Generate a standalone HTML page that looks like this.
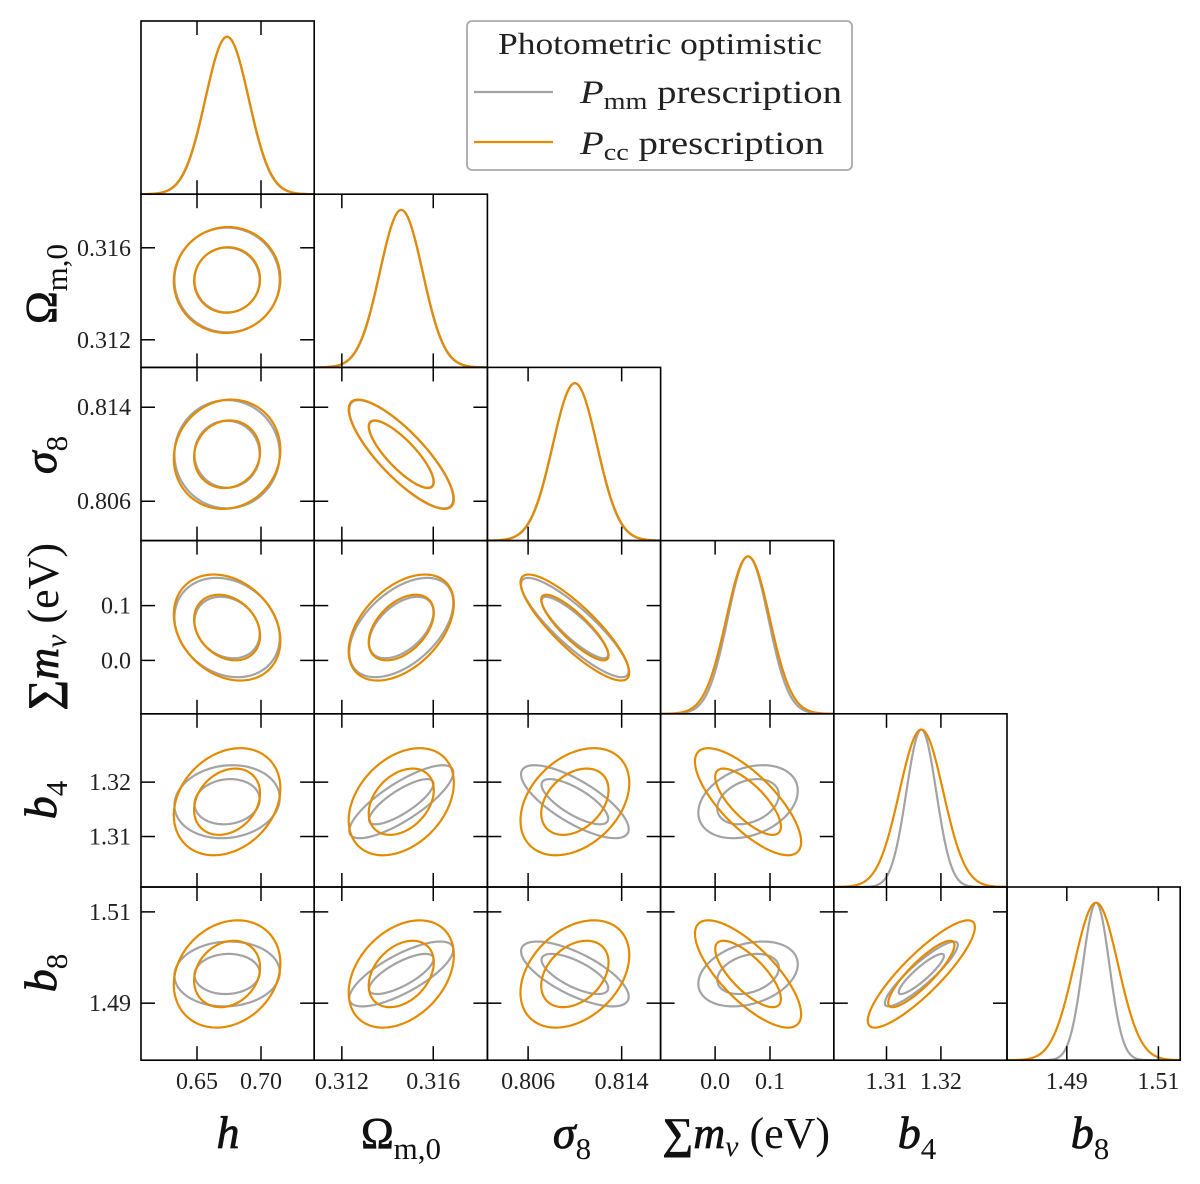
<!DOCTYPE html>
<html><head><meta charset="utf-8"><style>
html,body{margin:0;padding:0;background:#fff;}
svg{display:block;font-family:"Liberation Serif","DejaVu Serif",serif;}
</style></head><body>
<svg id="chart" width="1200" height="1184" viewBox="0 0 1200 1184" xmlns="http://www.w3.org/2000/svg"></svg>
<script>
// ---- data ----
const paramNames = ["h","Om","s8","mnu","b4","b8"];
const means = [0.6735, 0.3146, 0.8100, 0.060, 1.3164, 1.4964];
const sigmaCC = [0.0170, 0.00094, 0.0019, 0.0395, 0.00402, 0.0048];
const sigmaMM = [0.0168, 0.00093, 0.00188, 0.037, 0.00274, 0.0029];
// pair correlations
const pairI = [1,2,2,3,3,3,4,4,4,4,5,5,5,5,5];
const pairJ = [0,0,1,0,1,2,0,1,2,3,0,1,2,3,4];
const rhoCC = [0.02,0.08,-0.82,-0.25,0.45,-0.85,0.25,0.35,0.35,-0.75,0.2,0.35,0.35,-0.75,0.87];
const rhoMM = [0.0,0.0,-0.82,-0.2,0.5,-0.87,0.1,0.8,-0.75,0.3,0.05,0.75,-0.7,0.3,0.9];
const colLo = [0.60625,0.31079,0.80252,-0.0993,1.30031,1.47694];
const colHi = [0.74156,0.31837,0.81733,0.2162,1.33215,1.51476];
const rowLo = [0.60625,0.31080,0.80265,-0.0974,1.30072,1.47751];
const rowHi = [0.74156,0.31833,0.81739,0.2186,1.33256,1.51545];
const colTicks = [[0.65,0.70],[0.312,0.316],[0.806,0.814],[0.0,0.1],[1.31,1.32],[1.49,1.51]];
const colTickLabels = [["0.65","0.70"],["0.312","0.316"],["0.806","0.814"],["0.0","0.1"],["1.31","1.32"],["1.49","1.51"]];
const rowTicks = colTicks;
const rowTickLabels = colTickLabels;

// ---- layout ----
const L0=141, T0=21, P=173.2;
const svg=document.getElementById('chart');
const NS="http://www.w3.org/2000/svg";
function mk(tag,attrs,parent){const e=document.createElementNS(NS,tag);for(const k in attrs)e.setAttribute(k,attrs[k]);(parent||svg).appendChild(e);return e;}
function xS(p,col,v){const x0=L0+col*P;return x0+(v-colLo[p])/(colHi[p]-colLo[p])*P;}
function yS(p,row,v){const y0=T0+row*P;return y0+P-(v-rowLo[p])/(rowHi[p]-rowLo[p])*P;}
const ORANGE="#e38b00", GRAY="#a3a3a3";

const defs=mk('defs',{});
for(let r=0;r<6;r++)for(let c=0;c<=r;c++){
  const cp=mk('clipPath',{id:'cp'+r+'_'+c},defs);
  mk('rect',{x:L0+c*P,y:T0+r*P,width:P,height:P},cp);
}

for(let d=0;d<6;d++){
  const g=mk('g',{'clip-path':'url(#cp'+d+'_'+d+')'});
  
  
  [[sigmaMM,GRAY,'mm'],[sigmaCC,ORANGE,'cc']].forEach(([sg,col,nm])=>{
    let pts=[];
    const y0=T0+d*P, yb=y0+P;
    for(let k=0;k<=300;k++){
      const v=colLo[d]+(colHi[d]-colLo[d])*k/300;
      const f=Math.exp(-0.5*Math.pow((v-means[d])/sg[d],2));
      pts.push(xS(d,d,v).toFixed(2)+','+(yb-f/1.1*P).toFixed(2));
    }
    const pl=mk('polyline',{points:pts.join(' '),fill:'none',stroke:col,'stroke-width':2.2},g);
    
    
  });
}

for(let k=0;k<pairI.length;k++){
  const r=pairI[k], c=pairJ[k];
  const g=mk('g',{'clip-path':'url(#cp'+r+'_'+c+')'});
  
  
  [[sigmaMM,rhoMM,GRAY,'mm'],[sigmaCC,rhoCC,ORANGE,'cc']].forEach(([sg,rh,col,nm])=>{
    const sx=sg[c], sy=sg[r], rho=rh[k];
    [1.515,2.448].forEach(rad=>{
      let pts=[];
      for(let t=0;t<=180;t++){
        const a=2*Math.PI*t/180, u=Math.cos(a), w=Math.sin(a);
        const vx=means[c]+rad*sx*u;
        const vy=means[r]+rad*sy*(rho*u+Math.sqrt(1-rho*rho)*w);
        pts.push(xS(c,c,vx).toFixed(2)+','+yS(r,r,vy).toFixed(2));
      }
      const pg=mk('polygon',{points:pts.join(' '),fill:'none',stroke:col,'stroke-width':2.2},g);
      
      
    });
  });
}

const TL=14;
for(let r=0;r<6;r++)for(let c=0;c<=r;c++){
  const x0=L0+c*P, y0=T0+r*P;
  const fr=mk('rect',{x:x0,y:y0,width:P,height:P,fill:'none',stroke:'#000','stroke-width':1.6});
  
  
  colTicks[c].forEach(v=>{const x=xS(c,c,v);
    mk('line',{x1:x,x2:x,y1:y0+P,y2:y0+P-TL,stroke:'#000','stroke-width':1.5});
    mk('line',{x1:x,x2:x,y1:y0,y2:y0+TL,stroke:'#000','stroke-width':1.5});});
  if(r!==c) rowTicks[r].forEach(v=>{const y=yS(r,r,v);
    mk('line',{x1:x0,x2:x0+TL,y1:y,y2:y,stroke:'#000','stroke-width':1.5});
    mk('line',{x1:x0+P,x2:x0+P-TL,y1:y,y2:y,stroke:'#000','stroke-width':1.5});});
}
for(let c=0;c<6;c++){
  colTicks[c].forEach((v,i)=>{
    const t=mk('text',{x:xS(c,c,v),y:1089,'text-anchor':'middle','font-size':24,fill:'#222'});
    t.textContent=colTickLabels[c][i];
    
    
  });
}
for(let r=1;r<6;r++){
  rowTicks[r].forEach((v,i)=>{
    const t=mk('text',{x:131,y:yS(r,r,v)+8,'text-anchor':'end','font-size':24,fill:'#222'});
    t.textContent=rowTickLabels[r][i];
    
    
  });
}
</script>
<script>
(function(){
const NS="http://www.w3.org/2000/svg";
const svg=document.getElementById('chart');
function addLabel(html,x,y,rot,name){
  const g=document.createElementNS(NS,'g');
  g.setAttribute('transform','translate('+x+','+y+')'+(rot?' rotate(-90)':''));
  g.innerHTML=html;
  
  
  svg.appendChild(g);
}
const H='<text text-anchor="middle" font-size="46" font-style="italic" fill="#111" stroke="#111" stroke-width="0.8">h</text>';
const OM='<text text-anchor="middle" font-size="44" fill="#111" stroke="#111" stroke-width="0.8">Ω<tspan font-size="31" stroke-width="0" dy="11">m,0</tspan></text>';
const S8='<text text-anchor="middle" font-size="46" fill="#111" stroke="#111" stroke-width="0.8"><tspan font-style="italic">σ</tspan><tspan font-size="31" stroke-width="0" dy="11">8</tspan></text>';
const MN='<text text-anchor="middle" font-size="44" fill="#111"><tspan font-weight="bold">∑</tspan><tspan font-style="italic" stroke="#111" stroke-width="0.8">m</tspan><tspan font-size="30" font-style="italic" dy="8">ν</tspan><tspan dy="-8"> (eV)</tspan></text>';
const B4='<text text-anchor="middle" font-size="46" fill="#111" stroke="#111" stroke-width="0.8"><tspan font-style="italic">b</tspan><tspan font-size="31" stroke-width="0" dy="11">4</tspan></text>';
const B8='<text text-anchor="middle" font-size="46" fill="#111" stroke="#111" stroke-width="0.8"><tspan font-style="italic">b</tspan><tspan font-size="31" stroke-width="0" dy="11">8</tspan></text>';
addLabel(H,228,1148,false,'x-axis-title-h');
addLabel(OM,401,1148,false,'x-axis-title-omega-m');
addLabel(S8,572,1148,false,'x-axis-title-sigma8');
addLabel(MN,746,1148,false,'x-axis-title-sum-mnu');
addLabel(B4,917,1148,false,'x-axis-title-b4');
addLabel(B8,1090,1148,false,'x-axis-title-b8');
addLabel(OM,56,284,true,'y-axis-title-omega-m');
addLabel(S8,56,455,true,'y-axis-title-sigma8');
addLabel(MN,58,627,true,'y-axis-title-sum-mnu');
addLabel(B4,56,800,true,'y-axis-title-b4');
addLabel(B8,56,973,true,'y-axis-title-b8');
const lg=document.createElementNS(NS,'g');


lg.innerHTML='<rect x="467" y="21" width="385" height="149" rx="5" fill="#fff" stroke="#aaa" stroke-width="1.8"/>'+
 '<text x="660" y="54" text-anchor="middle" font-size="31" textLength="324" lengthAdjust="spacingAndGlyphs" fill="#222">Photometric optimistic</text>'+
 '<line x1="474" x2="553" y1="92" y2="92" stroke="#a3a3a3" stroke-width="2.2"/>'+
 '<text x="580" y="103" font-size="33" fill="#222" textLength="262" lengthAdjust="spacingAndGlyphs"><tspan font-style="italic">P</tspan><tspan font-size="24" dy="6">mm</tspan><tspan dy="-6"> prescription</tspan></text>'+
 '<line x1="474" x2="553" y1="142" y2="142" stroke="#e38b00" stroke-width="2.2"/>'+
 '<text x="580" y="154" font-size="33" fill="#222" textLength="244" lengthAdjust="spacingAndGlyphs"><tspan font-style="italic">P</tspan><tspan font-size="24" dy="6">cc</tspan><tspan dy="-6"> prescription</tspan></text>';
svg.appendChild(lg);
})();
</script>
</body></html>
